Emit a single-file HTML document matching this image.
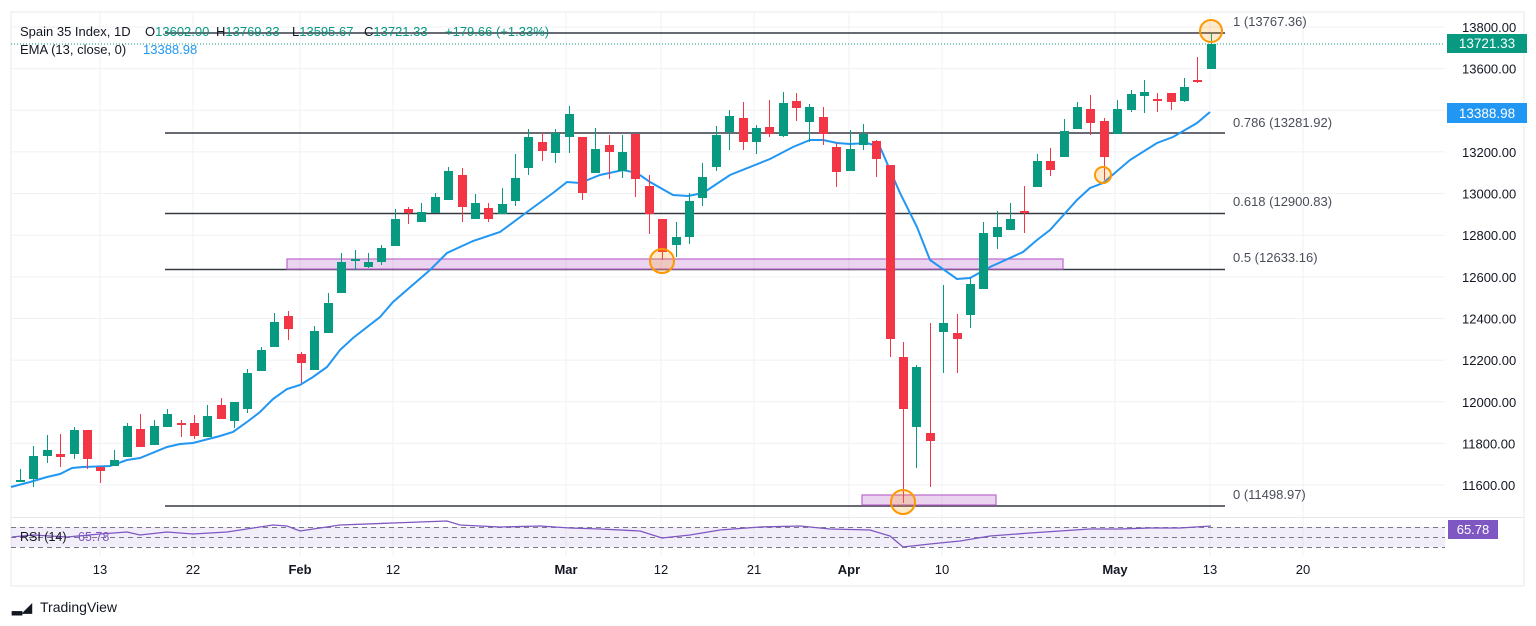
<!DOCTYPE html>
<html><head><meta charset="utf-8"><style>
body{margin:0;background:#fff;width:1536px;height:626px;overflow:hidden;font-family:"Liberation Sans",sans-serif}
svg{position:absolute;left:0;top:0}
</style></head><body>
<svg id="s" width="1536" height="626" xmlns="http://www.w3.org/2000/svg" font-family="Liberation Sans, sans-serif">
<rect x="11" y="12" width="1513" height="574" fill="#fff" stroke="#e6e8ee"/>
<g id="grid" stroke="#f0f1f4" stroke-width="1"></g>
<line x1="11" y1="517.5" x2="1524" y2="517.5" stroke="#e6e8ee"/>
<rect x="11" y="527" width="1434" height="20" fill="#7e57c2" fill-opacity="0.1"/>
<g stroke="#787b86" stroke-dasharray="5,4" stroke-width="1">
<line x1="11" y1="527.5" x2="1445" y2="527.5"/><line x1="11" y1="537.5" x2="1445" y2="537.5"/><line x1="11" y1="547.5" x2="1445" y2="547.5"/></g>
<polyline fill="none" stroke="#7e57c2" stroke-width="1.3" points="12,537 33,535 67,537 100,534 127,532 140,535 167,532 193,534 227,532 273,525 287,526 300,531 340,525 393,523 447,521 460,525 500,527 540,526 570,528 600,529 640,531 662,538 690,535 720,530 760,527 800,526 830,529 870,530 890,536 903,547 930,544 960,541 990,536 1030,533 1060,531 1090,529 1120,529 1150,528 1180,528 1211,526"/>
<text x="20" y="541" font-size="12.5" fill="#131722">RSI (14)</text><text x="78" y="541" font-size="12.5" fill="#7e57c2">65.78</text>
<rect x="1448" y="520" width="50" height="19" fill="#7e57c2"/><text x="1473" y="534" font-size="13" fill="#fff" text-anchor="middle">65.78</text>
<g stroke="#363a45" stroke-width="1.6">
<line x1="165" y1="33" x2="1225" y2="33"/><line x1="165" y1="133" x2="1225" y2="133"/><line x1="165" y1="213.5" x2="1225" y2="213.5"/><line x1="165" y1="269.5" x2="1225" y2="269.5"/><line x1="165" y1="506" x2="1225" y2="506"/></g>
<g font-size="13" fill="#4a4e59">
<text x="1233" y="26">1 (13767.36)</text><text x="1233" y="127">0.786 (13281.92)</text><text x="1233" y="206">0.618 (12900.83)</text><text x="1233" y="262">0.5 (12633.16)</text><text x="1233" y="499">0 (11498.97)</text></g>
<rect x="287" y="259" width="776" height="10" fill="#9c27b0" fill-opacity="0.2" stroke="#ba68c8" stroke-width="1.2"/>
<rect x="862" y="495" width="134" height="10" fill="#9c27b0" fill-opacity="0.2" stroke="#ba68c8" stroke-width="1.2"/>
<line x1="11" y1="44" x2="1445" y2="44" stroke="#089981" stroke-dasharray="1,2"/>
<polyline fill="none" stroke="#2196f3" stroke-width="2" points="11,487 30,482 47,477 60,474 72,468 83,467 110,466 127,460 140,458 167,447 180,444 193,443 220,436 233,432 247,422 260,412 273,399 287,389 300,385 313,377 327,367 340,350 353,338 380,317 393,302 430,270 447,253 473,241 500,232 527,212 553,193 567,182 580,183 600,175 623,170 637,173 650,182 673,195 688,196 703,193 730,175 770,159 793,147 810,140 823,140 837,143 850,144 867,143 880,147 900,193 917,227 930,260 957,279 970,278 990,267 1023,252 1037,240 1050,230 1077,200 1090,188 1103,183 1130,160 1157,143 1173,137 1197,123 1210,112"/>
<g id="c"></g>
<g stroke="#ff9800" stroke-width="2" fill="#ff9800" fill-opacity="0.2">
<circle cx="1211" cy="31" r="11"/><circle cx="662" cy="261" r="12"/><circle cx="903" cy="502" r="12"/><circle cx="1103" cy="175" r="8"/></g>
<g font-size="13" fill="#131722">
<text x="20" y="36">Spain 35 Index, 1D</text>
<text x="145" y="36">O<tspan fill="#089981">13602.00</tspan></text>
<text x="216" y="36">H<tspan fill="#089981">13769.33</tspan></text>
<text x="292" y="36">L<tspan fill="#089981">13595.67</tspan></text>
<text x="364" y="36">C<tspan fill="#089981">13721.33</tspan></text>
<text x="445" y="36" fill="#089981">+179.66 (+1.33%)</text>
<text x="20" y="54">EMA (13, close, 0)</text><text x="143" y="54" fill="#2196f3">13388.98</text>
</g>
<g id="pa" font-size="13" fill="#131722"></g>
<rect x="1447" y="34" width="80" height="19" fill="#089981"/><text x="1487" y="48" font-size="13.5" fill="#fff" text-anchor="middle">13721.33</text>
<rect x="1447" y="103" width="80" height="20" fill="#2196f3"/><text x="1487" y="118" font-size="13.5" fill="#fff" text-anchor="middle">13388.98</text>
<g font-size="13" fill="#131722" text-anchor="middle">
<text x="100" y="574">13</text><text x="193" y="574">22</text><text x="300" y="574" font-weight="bold">Feb</text><text x="393" y="574">12</text><text x="566" y="574" font-weight="bold">Mar</text><text x="661" y="574">12</text><text x="754" y="574">21</text><text x="849" y="574" font-weight="bold">Apr</text><text x="942" y="574">10</text><text x="1115" y="574" font-weight="bold">May</text><text x="1210" y="574">13</text><text x="1303" y="574">20</text></g>
<text x="12" y="612" font-size="13" font-weight="bold" fill="#131722">&#9602;&#9698;</text>
<text x="40" y="612" font-size="14" fill="#131722">TradingView</text>
</svg>
<script>
var ns="http://www.w3.org/2000/svg";
function el(p,t,a){var e=document.createElementNS(ns,t);for(var k in a)e.setAttribute(k,a[k]);p.appendChild(e);return e;}
var g=document.getElementById('grid');
[100,193,300,393,566,661,754,849,942,1115,1210,1303].forEach(function(x){el(g,'line',{x1:x,y1:12,x2:x,y2:556});});
var pa=document.getElementById('pa');
for(var i=0;i<12;i++){var p=13800-200*i,y=27+41.64*i;el(g,'line',{x1:11,y1:y,x2:1445,y2:y});
 if(p==13400)continue;var t=el(pa,'text',{x:1462,y:y+5});t.textContent=p.toFixed(2);}
var D=[[480,480,469,482],[479,456,446,487],[456,450,435,463],[454,457,434,467],[454,430,427,459],[430,459,430,469],[467,471,467,483],[466,460,450,466],[457,426,423,457],[429,447,414,447],[445,426,420,445],[427,414,409,427],[423,425,420,437],[423,436,415,439],[437,416,405,437],[405,419,398,419],[421,402,402,428],[409,373,369,413],[371,350,347,371],[347,322,313,347],[316,329,311,340],[354,363,352,383],[370,331,326,370],[333,303,293,333],[293,262,253,293],[261,259,250,270],[267,262,253,268],[262,248,245,265],[246,219,209,246],[209,213,207,224],[222,212,203,222],[213,197,193,213],[200,171,167,200],[175,207,168,222],[219,203,194,219],[208,219,203,222],[214,204,188,214],[201,178,154,206],[168,137,129,175],[142,151,133,161],[153,133,129,163],[137,114,106,153],[137,193,137,200],[173,149,128,173],[145,152,135,179],[171,152,135,178],[134,179,134,197],[186,214,175,234],[219,252,219,260],[245,237,222,257],[237,201,193,244],[198,177,163,206],[167,135,126,171],[132,116,110,150],[118,142,102,150],[142,128,125,154],[127,134,100,137],[136,103,92,137],[101,108,93,121],[122,107,104,142],[117,134,107,145],[147,172,143,187],[171,149,130,171],[145,134,124,150],[141,159,140,177],[165,339,165,357],[357,409,342,503],[427,367,365,468],[433,441,323,487],[332,323,285,373],[333,339,314,373],[315,284,278,328],[289,233,222,289],[237,227,211,249],[230,219,203,230],[211,213,186,233],[187,161,154,187],[161,170,148,176],[157,131,119,157],[129,107,102,129],[109,123,95,135],[121,157,118,180],[134,109,100,134],[110,94,90,112],[96,92,80,113],[99,100,93,112],[93,102,93,110],[101,87,78,102],[80,81,57,83],[69,44,33,69]];
var c=document.getElementById('c');
D.forEach(function(d,i){var x=Math.round(20+13.38*i)+0.5;var col=d[1]<=d[0]?'#089981':'#f23645';
 el(c,'line',{x1:x,y1:d[2],x2:x,y2:d[3],stroke:col,'stroke-width':1});
 var t=Math.min(d[0],d[1]),h=Math.max(2,Math.abs(d[1]-d[0]));
 el(c,'rect',{x:x-4.5,y:t,width:9,height:h,fill:col});});
</script>
</body></html>
